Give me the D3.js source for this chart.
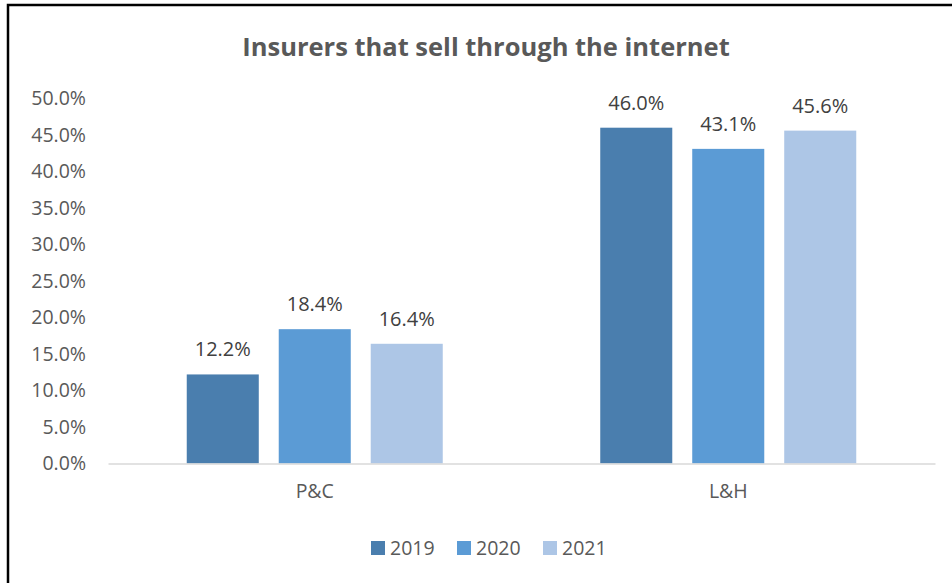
<!DOCTYPE html>
<html>
<head>
<meta charset="utf-8">
<script src="https://cdn.jsdelivr.net/npm/d3@7"></script>
<style>
  body { margin: 0; background: #fff; }
  svg { display: block; }
</style>
</head>
<body>
<div id="chart"></div>
<script>
const categories = ['P&C', 'L&H'];
const seriesNames = ['2019', '2020', '2021'];
const values2019 = [12.2, 46.0];
const values2020 = [18.4, 43.1];
const values2021 = [16.4, 45.6];
const yTicks = [0, 5, 10, 15, 20, 25, 30, 35, 40, 45, 50];
const colors = ['#4a7eae', '#5b9bd5', '#adc6e6'];

const seriesValues = [values2019, values2020, values2021];
const width = 952;
const height = 583;
const font = '"Open Sans", "DejaVu Sans", sans-serif';

const svg = d3.select('#chart')
    .append('svg')
    .attr('width', width)
    .attr('height', height);

// chart border (only left and top visible in the frame)
svg.append('rect')
    .attr('x', 8)
    .attr('y', 5)
    .attr('width', width + 20)
    .attr('height', height + 20)
    .attr('fill', '#fff')
    .attr('stroke', '#000')
    .attr('stroke-width', 2.5);

const margin = { left: 108, right: 17, top: 98.5, bottom: 119.5 };

const x0 = d3.scaleBand()
    .domain(categories)
    .range([margin.left, width - margin.right]);

const x1 = d3.scaleBand()
    .domain(seriesNames)
    .range([0, x0.bandwidth()])
    .paddingInner(0.217)
    .paddingOuter(0.856);

const y = d3.scaleLinear()
    .domain([0, 50])
    .range([height - margin.bottom, margin.top]);

svg.append('text')
    .attr('x', 486)
    .attr('y', 56)
    .attr('text-anchor', 'middle')
    .attr('font-family', font)
    .attr('font-weight', 'bold')
    .attr('font-size', 25.5)
    .attr('fill', '#595959')
    .text('Insurers that sell through the internet');

// y axis labels
const yAxis = svg.append('g')
    .attr('transform', `translate(${margin.left - 19},0)`)
    .call(d3.axisLeft(y).tickValues(yTicks).tickSize(0).tickFormat(d => d.toFixed(1) + '%'));
yAxis.select('.domain').remove();
yAxis.selectAll('text')
    .attr('font-family', font)
    .attr('font-size', 19.5)
    .attr('fill', '#595959');

// bars
const groups = svg.append('g')
    .selectAll('g')
    .data(categories)
    .join('g')
    .attr('transform', d => `translate(${x0(d)},0)`);

groups.selectAll('rect')
    .data((d, i) => seriesNames.map((s, j) => ({ s, v: seriesValues[j][i], j })))
    .join('rect')
    .attr('x', d => x1(d.s))
    .attr('y', d => y(d.v))
    .attr('width', x1.bandwidth())
    .attr('height', d => y(0) - y(d.v))
    .attr('fill', d => colors[d.j]);

groups.selectAll('text')
    .data((d, i) => seriesNames.map((s, j) => ({ s, v: seriesValues[j][i], j })))
    .join('text')
    .attr('x', d => x1(d.s) + x1.bandwidth() / 2)
    .attr('y', d => y(d.v) - 18)
    .attr('text-anchor', 'middle')
    .attr('font-family', font)
    .attr('font-size', 20)
    .attr('fill', '#404040')
    .text(d => d.v.toFixed(1) + '%');

// x axis
const xAxis = svg.append('g')
    .attr('transform', `translate(0,${y(0)})`)
    .call(d3.axisBottom(x0).tickSize(0).tickPadding(21));
xAxis.select('.domain')
    .attr('stroke', '#d9d9d9')
    .attr('stroke-width', 1.5);
xAxis.selectAll('text')
    .attr('font-family', font)
    .attr('font-size', 19.5)
    .attr('fill', '#595959');

// legend
const legend = svg.append('g')
    .selectAll('g')
    .data(seriesNames)
    .join('g')
    .attr('transform', (d, i) => `translate(${371 + i * 86},541)`);

legend.append('rect')
    .attr('width', 14)
    .attr('height', 14)
    .attr('fill', (d, i) => colors[i]);

legend.append('text')
    .attr('x', 19)
    .attr('y', 7)
    .attr('dy', '0.35em')
    .attr('font-family', font)
    .attr('font-size', 19.5)
    .attr('fill', '#595959')
    .text(d => d);
</script>
</body>
</html>
